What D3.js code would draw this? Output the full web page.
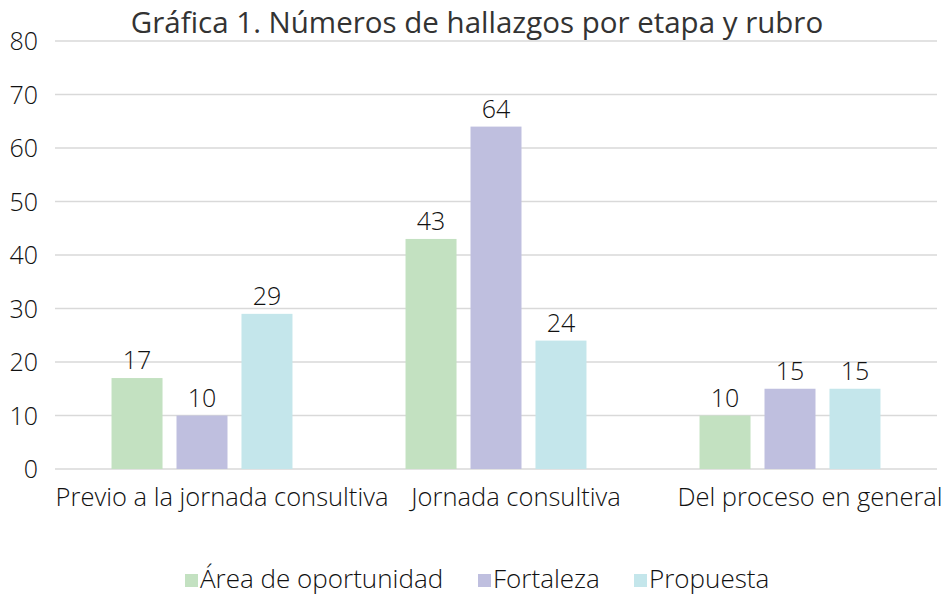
<!DOCTYPE html>
<html>
<head>
<meta charset="utf-8">
<script src="https://cdn.jsdelivr.net/npm/d3@7"></script>
<style>
  body { margin: 0; background: #fff; }
  svg text { font-family: "Open Sans", "Noto Sans", sans-serif; font-weight: 300; fill: #111; }
</style>
</head>
<body>
<div id="chart"></div>
<script>
const categories = ["Previo a la jornada consultiva", "Jornada consultiva", "Del proceso en general"];
const seriesNames = ["Área de oportunidad", "Fortaleza", "Propuesta"];
const areaValues = [17, 43, 10];
const fortalezaValues = [10, 64, 15];
const propuestaValues = [29, 24, 15];
const yTicks = [0, 10, 20, 30, 40, 50, 60, 70, 80];

(function() {
  const width = 949, height = 596;
  const colors = { "Área de oportunidad": "#c3e1c1", "Fortaleza": "#bfbfdf", "Propuesta": "#c4e6eb" };
  const seriesValues = [areaValues, fortalezaValues, propuestaValues];

  const svg = d3.select("#chart").append("svg")
    .attr("width", width)
    .attr("height", height);

  const x = d3.scaleBand().domain(categories).range([55, 937]);
  const xSub = d3.scaleBand().domain(seriesNames)
    .range([0, x.bandwidth()])
    .paddingInner(0.215)
    .paddingOuter(0.87);
  const y = d3.scaleLinear().domain([0, 80]).range([469, 41]);

  // gridlines
  svg.append("g")
    .selectAll("line")
    .data(yTicks)
    .enter()
    .append("line")
    .attr("x1", 55)
    .attr("x2", 937)
    .attr("y1", d => y(d))
    .attr("y2", d => y(d))
    .attr("stroke", "#d9d9d9")
    .attr("stroke-width", 1.5);

  // y tick labels
  svg.append("g")
    .selectAll("text")
    .data(yTicks)
    .enter()
    .append("text")
    .attr("x", 38)
    .attr("y", d => y(d))
    .attr("dy", "0.36em")
    .attr("text-anchor", "end")
    .attr("font-size", "25px")
    .text(d => d);

  const data = [];
  categories.forEach((c, i) => {
    seriesNames.forEach((s, j) => {
      data.push({ category: c, series: s, value: seriesValues[j][i] });
    });
  });

  svg.append("g")
    .selectAll("rect")
    .data(data)
    .enter()
    .append("rect")
    .attr("x", d => x(d.category) + xSub(d.series))
    .attr("y", d => y(d.value))
    .attr("width", xSub.bandwidth())
    .attr("height", d => y(0) - y(d.value))
    .attr("fill", d => colors[d.series]);

  svg.append("g")
    .selectAll("text")
    .data(data)
    .enter()
    .append("text")
    .attr("x", d => x(d.category) + xSub(d.series) + xSub.bandwidth() / 2)
    .attr("y", d => y(d.value) - 9)
    .attr("text-anchor", "middle")
    .attr("font-size", "25px")
    .text(d => d.value);

  // category labels (shifted right like the original)
  svg.append("g")
    .selectAll("text")
    .data(categories)
    .enter()
    .append("text")
    .attr("x", d => x(d) + x.bandwidth() / 2 + 20)
    .attr("y", 506)
    .attr("text-anchor", "middle")
    .attr("font-size", "25.5px")
    .text(d => d);

  // title
  svg.append("text")
    .attr("x", 477)
    .attr("y", 33)
    .attr("text-anchor", "middle")
    .attr("font-size", "29.5px")
    .style("font-weight", 400)
    .style("fill", "#333")
    .text("Gráfica 1. Números de hallazgos por etapa y rubro");

  // legend
  const legendX = [185, 478, 634];
  const legend = svg.append("g")
    .selectAll("g")
    .data(seriesNames)
    .enter()
    .append("g")
    .attr("transform", (d, i) => `translate(${legendX[i]}, 588)`);

  legend.append("rect")
    .attr("x", 0)
    .attr("y", -14)
    .attr("width", 13)
    .attr("height", 13)
    .attr("fill", d => colors[d]);

  legend.append("text")
    .attr("x", 15)
    .attr("y", 0)
    .attr("font-size", "26px")
    .text(d => d);
})();
</script>
</body>
</html>
